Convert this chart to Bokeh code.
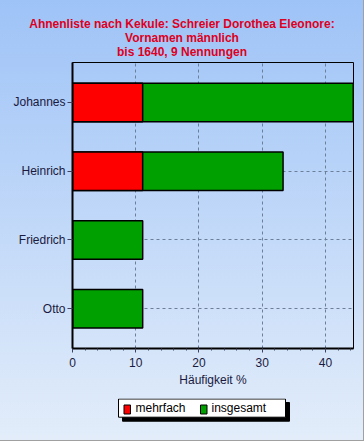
from bokeh.plotting import figure
from bokeh.models import Range1d, FixedTicker, ColumnDataSource, Div
from bokeh.layouts import column
from bokeh.core.properties import value
from bokeh.embed import file_html
from bokeh.resources import INLINE

# data
names = ["Johannes", "Heinrich", "Friedrich", "Otto"]
mehrfach = [11.1, 11.1, 0.0, 0.0]
insgesamt = [44.4, 33.3, 11.1, 11.1]
x_ticks = [0, 10, 20, 30, 40]
series_labels = ["mehrfach", "insgesamt"]
title_lines = ["Ahnenliste nach Kekule: Schreier Dorothea Eleonore:",
               "Vornamen männlich",
               "bis 1640, 9 Nennungen"]

# styles
series_colors = ["#ff0000", "#00a000"]
text_col = "#1a1a40"
title_col = "#dd0022"
FONT = "Liberation Sans"

ypos = [len(names) - i for i in range(len(names))]
src = ColumnDataSource(dict(y=ypos, name=names, m=mehrfach, g=insgesamt))

title_div = Div(
    text=("<div style='text-align:center; width:364px; padding-top:17px; "
          "font-family:\"Liberation Sans\"; font-size:12px; font-weight:bold; "
          f"line-height:14px; color:{title_col};'>" + "<br>".join(title_lines) + "</div>"),
    width=364, height=58, margin=0)

p = figure(width=364, height=340, output_backend="svg", toolbar_location=None,
           title_location=None,
           x_range=Range1d(0, 44.44), y_range=Range1d(0.42, len(names) + 0.58),
           min_border_left=72, min_border_right=11, min_border_top=4, min_border_bottom=50)
p.background_fill_color = None
p.border_fill_color = None
p.outline_line_color = "black"
p.outline_line_width = 1

r_g = p.hbar(y="y", left=0, right="g", height=0.56, source=src,
             fill_color=series_colors[1], line_color="black", line_width=1.5)
r_m = p.hbar(y="y", left=0, right="m", height=0.56, source=src,
             fill_color=series_colors[0], line_color="black", line_width=1.5)

xa = p.xaxis[0]
xa.ticker = FixedTicker(ticks=x_ticks, minor_ticks=list(range(0, 45, 2)))
xa.axis_label = "Häufigkeit %"
xa.axis_label_text_font = FONT
xa.axis_label_text_font_size = "12px"
xa.axis_label_text_font_style = "normal"
xa.axis_label_text_color = text_col
xa.axis_label_standoff = 3
xa.major_label_text_font = FONT
xa.major_label_text_font_size = "12px"
xa.major_label_text_color = text_col
xa.major_label_standoff = 5
xa.axis_line_width = 2
xa.axis_line_color = "black"
xa.major_tick_out = 4
xa.major_tick_in = 0
xa.minor_tick_out = 2
xa.minor_tick_in = 0
xa.major_tick_line_color = "#404060"
xa.minor_tick_line_color = "#404060"

ya = p.yaxis[0]
ya.ticker = FixedTicker(ticks=ypos)
ya.major_label_overrides = {yy: n for yy, n in zip(ypos, names)}
ya.major_label_text_font = FONT
ya.major_label_text_font_size = "12px"
ya.major_label_text_color = text_col
ya.major_label_standoff = 2
ya.axis_line_width = 2
ya.axis_line_color = "black"
ya.major_tick_out = 5
ya.major_tick_in = 0
ya.minor_tick_line_color = None
ya.major_tick_line_color = "#404060"

p.xgrid.grid_line_color = "#6b7f99"
p.xgrid.grid_line_dash = "3 3"
p.ygrid.grid_line_color = "#6b7f99"
p.ygrid.grid_line_dash = "3 3"

# legend strip (layout coordinates in page pixels, y downward)
lg = figure(width=364, height=43, output_backend="svg", toolbar_location=None,
            title_location=None,
            x_range=Range1d(72, 353), y_range=Range1d(43, 0),
            x_axis_type=None, y_axis_type=None,
            min_border_left=72, min_border_right=11, min_border_top=0, min_border_bottom=0)
lg.background_fill_color = None
lg.border_fill_color = None
lg.outline_line_color = None
lg.grid.visible = False

lg.quad(left=[122], right=[289], top=[4], bottom=[22.7], fill_color="black", line_color="black")
lg.quad(left=[118], right=[285], top=[0.5], bottom=[18.7], fill_color="white", line_color="black", line_width=1)
sw_x = [123.5, 200]
lab_x = [135, 211]
lg.quad(left=sw_x, right=[x + 6.5 for x in sw_x], top=[6.5, 6.5], bottom=[15.5, 15.5],
        fill_color=series_colors, line_color="black", line_width=1)
lg.text(x=lab_x, y=[9.5, 9.5], text=series_labels, text_baseline="middle",
        text_font=value(FONT), text_font_size="12px", text_color="black")

layout = column(title_div, p, lg, spacing=0,
                styles={"background": "linear-gradient(to bottom, #9ec3f7 0%, #e3edfa 100%)",
                        "box-shadow": "inset -1px -1px 0 #a0a0a0"})

open("out.html", "w").write(file_html(layout, INLINE))
